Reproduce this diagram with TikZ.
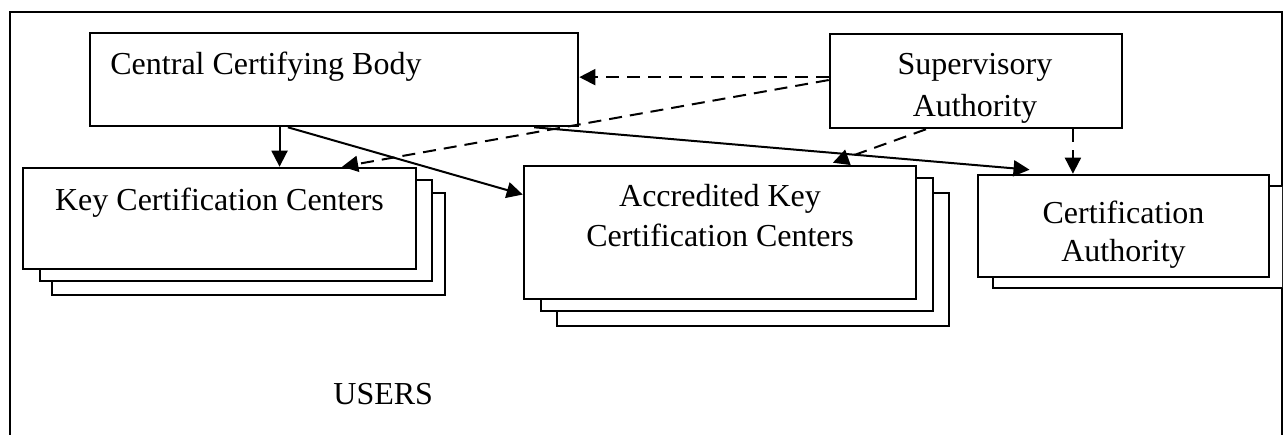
\documentclass[tikz,border=0pt]{standalone}
\usepackage{fontspec}
\setmainfont{Liberation Serif}
\usetikzlibrary{arrows.meta,calc}
\tikzset{
  box/.style={draw, line width=1.3pt, fill=white, inner sep=0pt, rectangle},
  lbl/.style={font=\fontsize{16}{20}\selectfont, inner sep=0pt, align=center},
  conn/.style={line width=1pt, -{Triangle[length=8pt,width=8pt]}},
  dconn/.style={conn, dash pattern=on 6.5pt off 4pt},
  frame/.style={line width=1pt}
}
\begin{document}
\begin{tikzpicture}[x=0.5pt,y=-0.5pt]
\useasboundingbox (0,0) rectangle (1284,434);
\clip (0,0) rectangle (1284,434);
% outer frame (open at the bottom)
\draw[frame] (10,450) -- (10,12) -- (1282,12) -- (1282,450);

% Central Certifying Body
\node[box, minimum width=244pt, minimum height=46.5pt] (ccb) at (334,79.5) {};
\node[lbl, anchor=base west] (ccbt) at (110,74) {Central Certifying Body};

% Supervisory Authority
\node[box, minimum width=146pt, minimum height=47pt] (sup) at (976,81) {};
\node[lbl, anchor=north, font=\fontsize{16}{21}\selectfont] (supt) at (975,53) {Supervisory\\Authority};

% Key Certification Centers stack
\node[box, minimum width=196.5pt, minimum height=51pt] (k3) at (248.5,244) {};
\node[box, minimum width=196pt, minimum height=50.5pt] (k2) at (236,230.5) {};
\node[box, minimum width=196.5pt, minimum height=50.5pt] (k1) at (219.5,218.5) {};
\node[lbl, anchor=base] (k1t) at (219.5,210) {Key Certification Centers};

% Accredited Key Certification Centers stack
\node[box, minimum width=196pt, minimum height=66.5pt] (a3) at (753,259.5) {};
\node[box, minimum width=196pt, minimum height=66.5pt] (a2) at (737,244.5) {};
\node[box, minimum width=196pt, minimum height=66.5pt] (acc) at (720,232.5) {};
\node[lbl, anchor=north] (acct) at (720,184) {Accredited Key\\Certification Centers};

% Certification Authority stack
\begin{scope}
\clip (10,0) rectangle (1282,434);
\node[box, minimum width=145.5pt, minimum height=51pt] (ca2) at (1138.5,237) {};
\end{scope}
\node[box, minimum width=145.5pt, minimum height=51pt] (ca) at (1123.5,226) {};
\node[lbl, anchor=north, font=\fontsize{16}{19}\selectfont] (cat) at (1123.5,201) {Certification\\Authority};

% USERS
\node[lbl, anchor=base west] (users) at (333,404) {USERS};

% solid connectors
\draw[conn] ($(ccb.south west)!0.389!(ccb.south east)$) coordinate (c1)
  -- (c1 |- k1.north);
\draw[conn] ($(ccb.south west)!0.406!(ccb.south east)$)
  -- ($(acc.north west)!0.22!(acc.south west)$);
\draw[conn] ($(ccb.south west)!0.908!(ccb.south east)$)
  -- ($(ca.north west)!0.18!(ca.north east)+(0,-4)$);

% dashed connectors
\draw[dconn] ($(sup.north west)!0.46!(sup.south west)$) coordinate (s4)
  -- (s4 -| ccb.east);
\draw[dconn] ($(sup.north west)!0.49!(sup.south west)$)
  -- ($(k1.north west)!0.81!(k1.north east)$);
\draw[dconn] ($(sup.south west)!0.33!(sup.south east)$)
  -- ($(acc.north west)!0.786!(acc.north east)+(0,-2)$);
\draw[dconn] ($(sup.south west)!0.829!(sup.south east)$) coordinate (s7)
  -- (s7 |- ca.north);
\end{tikzpicture}
\end{document}
